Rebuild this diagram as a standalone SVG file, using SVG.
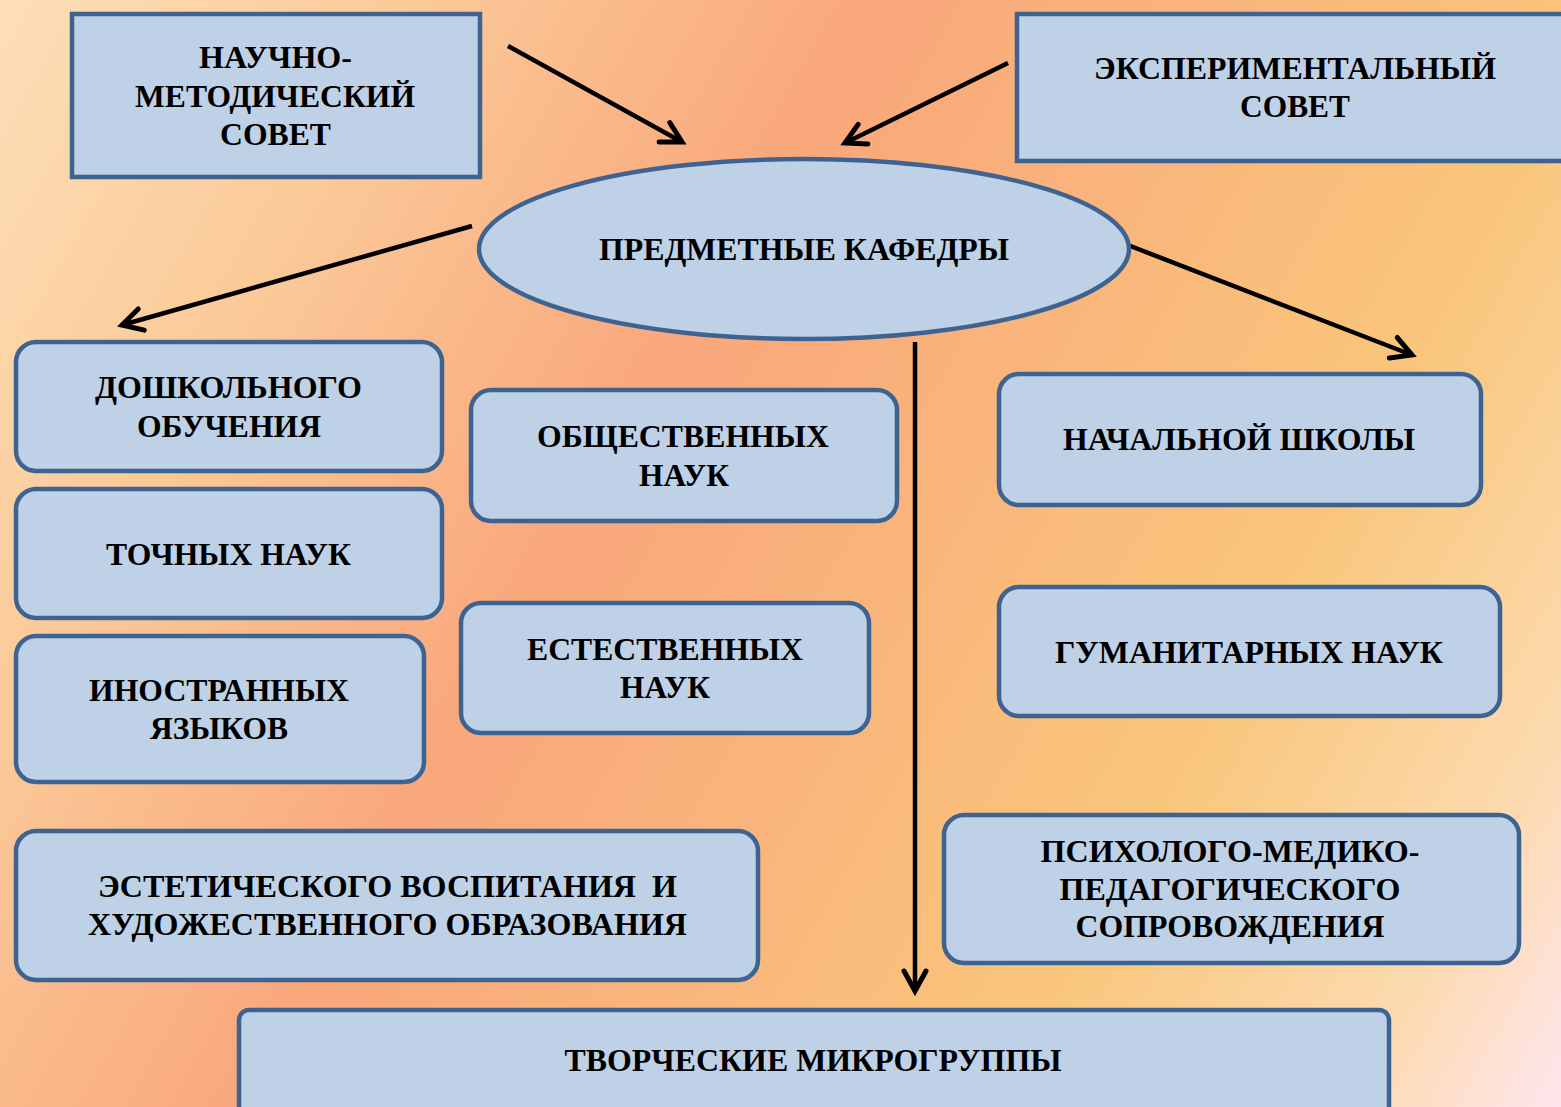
<svg xmlns="http://www.w3.org/2000/svg" width="1561" height="1107" viewBox="0 0 1561 1107">
<defs>
<linearGradient id="bg" gradientUnits="userSpaceOnUse" x1="0" y1="0" x2="1655" y2="942">
<stop offset="0" stop-color="#FDDFB8"/>
<stop offset="0.18" stop-color="#FBCB9A"/>
<stop offset="0.4" stop-color="#F9A77B"/>
<stop offset="0.56" stop-color="#F9B57B"/>
<stop offset="0.74" stop-color="#F9C67C"/>
<stop offset="0.9" stop-color="#FCDAAE"/>
<stop offset="1" stop-color="#FEE6EE"/>
</linearGradient>
<marker id="ah" markerUnits="userSpaceOnUse" markerWidth="40" markerHeight="40" refX="22" refY="12" orient="auto" overflow="visible">
<path d="M2,1 L22,12 L2,23" fill="none" stroke="#000" stroke-width="5" stroke-linecap="round" stroke-linejoin="miter"/>
</marker>
</defs>
<style>
.box{fill:#BED1E7;stroke:#3F6391;stroke-width:4.5}
.t{font-weight:bold;font-size:31px;fill:#000;text-anchor:middle}
.c{stroke:#000;stroke-width:4.5;fill:none;marker-end:url(#ah)}
</style>
<rect x="0" y="0" width="1561" height="1107" fill="url(#bg)"/>

<g id="connectors">
<line class="c" x1="508" y1="46" x2="682" y2="142"/>
<line class="c" x1="1008" y1="63" x2="845" y2="143"/>
<line class="c" x1="472" y1="226" x2="122" y2="325"/>
<line class="c" x1="1120" y1="242" x2="1412" y2="355"/>
<line class="c" x1="915" y1="342" x2="915" y2="991"/>
</g>

<g font-family="'Liberation Serif', 'DejaVu Serif', serif">
<g id="node-nms">
<rect class="box" x="72" y="14" width="408" height="163"/>
<text class="t" x="275.5" y="68" textLength="153" lengthAdjust="spacingAndGlyphs">НАУЧНО-</text>
<text class="t" x="275" y="107" textLength="280" lengthAdjust="spacingAndGlyphs">МЕТОДИЧЕСКИЙ</text>
<text class="t" x="275.5" y="145" textLength="111" lengthAdjust="spacingAndGlyphs">СОВЕТ</text>
</g>

<g id="node-es">
<rect class="box" x="1017" y="14" width="600" height="147"/>
<text class="t" x="1295" y="79" textLength="402" lengthAdjust="spacingAndGlyphs">ЭКСПЕРИМЕНТАЛЬНЫЙ</text>
<text class="t" x="1295" y="117" textLength="110" lengthAdjust="spacingAndGlyphs">СОВЕТ</text>
</g>

<g id="node-kafedry">
<ellipse class="box" cx="804" cy="249" rx="325" ry="90"/>
<text class="t" x="804" y="260" textLength="410" lengthAdjust="spacingAndGlyphs">ПРЕДМЕТНЫЕ КАФЕДРЫ</text>
</g>

<g id="node-doshk">
<rect class="box" x="16" y="342" width="426" height="129" rx="20"/>
<text class="t" x="228.5" y="398" textLength="267" lengthAdjust="spacingAndGlyphs">ДОШКОЛЬНОГО</text>
<text class="t" x="229" y="437" textLength="184" lengthAdjust="spacingAndGlyphs">ОБУЧЕНИЯ</text>
</g>

<g id="node-tochn">
<rect class="box" x="16" y="489" width="426" height="129" rx="20"/>
<text class="t" x="228.5" y="565" textLength="245" lengthAdjust="spacingAndGlyphs">ТОЧНЫХ НАУК</text>
</g>

<g id="node-inostr">
<rect class="box" x="16" y="636" width="408" height="146" rx="20"/>
<text class="t" x="219" y="701" textLength="260" lengthAdjust="spacingAndGlyphs">ИНОСТРАННЫХ</text>
<text class="t" x="219" y="739" textLength="138" lengthAdjust="spacingAndGlyphs">ЯЗЫКОВ</text>
</g>

<g id="node-obsh">
<rect class="box" x="471" y="390" width="426" height="131" rx="20"/>
<text class="t" x="683" y="447" textLength="292" lengthAdjust="spacingAndGlyphs">ОБЩЕСТВЕННЫХ</text>
<text class="t" x="684" y="486" textLength="90" lengthAdjust="spacingAndGlyphs">НАУК</text>
</g>

<g id="node-estest">
<rect class="box" x="461" y="603" width="408" height="130" rx="20"/>
<text class="t" x="665" y="660" textLength="276" lengthAdjust="spacingAndGlyphs">ЕСТЕСТВЕННЫХ</text>
<text class="t" x="665" y="698" textLength="90" lengthAdjust="spacingAndGlyphs">НАУК</text>
</g>

<g id="node-nach">
<rect class="box" x="999" y="374" width="482" height="131" rx="20"/>
<text class="t" x="1239" y="450" textLength="352" lengthAdjust="spacingAndGlyphs">НАЧАЛЬНОЙ ШКОЛЫ</text>
</g>

<g id="node-guman">
<rect class="box" x="999" y="587" width="501" height="129" rx="20"/>
<text class="t" x="1249" y="663" textLength="388" lengthAdjust="spacingAndGlyphs">ГУМАНИТАРНЫХ НАУК</text>
</g>

<g id="node-estet">
<rect class="box" x="16" y="831" width="742" height="149" rx="20"/>
<text class="t" x="387.5" y="897" textLength="579" lengthAdjust="spacingAndGlyphs" xml:space="preserve">ЭСТЕТИЧЕСКОГО ВОСПИТАНИЯ  И</text>
<text class="t" x="387.5" y="935" textLength="599" lengthAdjust="spacingAndGlyphs">ХУДОЖЕСТВЕННОГО ОБРАЗОВАНИЯ</text>
</g>

<g id="node-psy">
<rect class="box" x="944" y="815" width="575" height="148" rx="20"/>
<text class="t" x="1230" y="862" textLength="379" lengthAdjust="spacingAndGlyphs">ПСИХОЛОГО-МЕДИКО-</text>
<text class="t" x="1230" y="900" textLength="341" lengthAdjust="spacingAndGlyphs">ПЕДАГОГИЧЕСКОГО</text>
<text class="t" x="1230" y="937" textLength="309" lengthAdjust="spacingAndGlyphs">СОПРОВОЖДЕНИЯ</text>
</g>

<g id="node-tvorch">
<rect class="box" x="239" y="1010" width="1150" height="130" rx="10"/>
<text class="t" x="813" y="1071" textLength="497" lengthAdjust="spacingAndGlyphs">ТВОРЧЕСКИЕ МИКРОГРУППЫ</text>
</g>
</g>
</svg>
